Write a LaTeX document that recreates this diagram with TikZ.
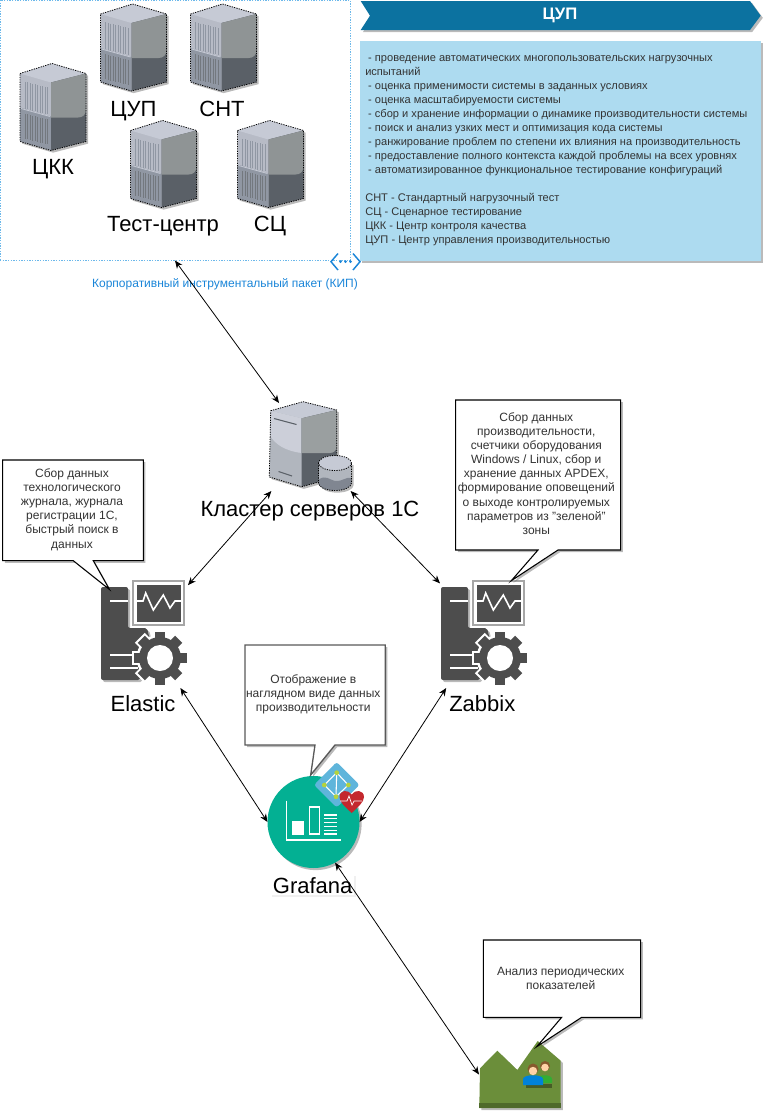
\documentclass[tikz,border=0pt]{standalone}
\usepackage{fontspec}
\setmainfont{Liberation Sans}
\usetikzlibrary{arrows.meta, shadows}
\definecolor{kipcol}{HTML}{6CB8EA}
\definecolor{kiptext}{HTML}{1A85D8}
\definecolor{headcol}{HTML}{0C72A0}
\definecolor{panelcol}{HTML}{ADDBF0}
\definecolor{notetext}{HTML}{333333}
\definecolor{darkcol}{HTML}{4D4D4D}
\definecolor{grafcol}{HTML}{03B093}
\definecolor{diamcol}{HTML}{5FB5DB}
\definecolor{limecol}{HTML}{B5D33D}
\definecolor{heartcol}{HTML}{C4282E}
\definecolor{landcol}{HTML}{6B8E3A}
\definecolor{landdark}{HTML}{4F6A2A}
\definecolor{topface}{HTML}{C6CAD5}
\definecolor{leftface}{HTML}{B7BBC6}
\definecolor{leftlow}{HTML}{9097A3}
\definecolor{rightup}{HTML}{8F9495}
\definecolor{rightlow}{HTML}{5A6067}
\tikzset{
  softshadow/.style={drop shadow={shadow xshift=1.6pt, shadow yshift=-1.6pt, fill=black!60, opacity=.45}},
  iconbox/.style={inner sep=0pt, outer sep=0pt},
  biglabel/.style={inner sep=0pt, anchor=base, font=\fontsize{16.5}{18}\selectfont},
  notetxt/.style={inner sep=0pt, align=center, text=notetext, font=\fontsize{9}{10.6}\selectfont},
  notebox/.style={draw=black, fill=white, line width=.8pt, line join=miter, softshadow},
  link/.style={<->, line width=.6pt},
  dotline/.style={draw=black, dash pattern=on .9pt off .9pt, line width=.6pt}
}
\newcommand{\towerserver}[3]{%
\begin{scope}[shift={(#2,#3)}]
  \node[iconbox, minimum width=49.5pt, minimum height=65.25pt] (#1) at (33,43.5) {};
  \fill[softshadow, leftface] (0,10) -- (32,0) -- (66,10) -- (66,78) -- (31,87) -- (0,78) -- cycle;
  \fill[leftlow] (0,44) -- (31,53) -- (31,87) -- (0,78) -- cycle;
  \fill[topface] (0,10) -- (32,0) -- (66,10) -- (31,19) -- cycle;
  \fill[rightlow] (31,19) -- (66,10) -- (66,78) -- (31,87) -- cycle;
  \fill[rightup] (31,19) -- (66,10) -- (66,46) .. controls (66,51) and (63,54) .. (58,54) -- (31,54) -- cycle;
  \foreach \sx in {5,7.5,...,27.5} {
    \draw[leftlow, line width=.5pt] ({\sx},{\sx*.25+17}) -- ({\sx},{\sx*.25+44});
    \draw[rightlow!85, line width=.5pt] ({\sx},{\sx*.25+49}) -- ({\sx},{\sx*.25+74});
  }
  \draw[topface, line width=.6pt] (1,45) -- (30,53);
  \draw[dotline] (0,10) -- (32,0) -- (66,10) -- (66,78) -- (31,87) -- (0,78) -- cycle;
\end{scope}}
\newcommand{\monserver}[3]{%
\begin{scope}[shift={(#2,#3)}]
  \node[iconbox, minimum width=66pt, minimum height=81pt] (#1) at (44,54) {};
  \fill[darkcol, softshadow, rounded corners=1.5pt] (1,7) -- (28,7) -- (28,48) -- (47,48) -- (50,60) -- (40,100) -- (1,100) -- cycle;
  \draw[white, line width=2pt] (10,21) -- (28,21);
  \draw[white, line width=1.5pt] (10,75) -- (38,75);
  \draw[white, line width=1.5pt] (10,88) -- (38,88);
  \draw[fill=white, draw=black!35, line width=1.5pt] (33,1) rectangle (84,45);
  \fill[darkcol] (37,5) rectangle (81,42);
  \draw[white, line width=1.2pt] (37,21) -- (43,21) -- (45.7,13) -- (53.3,30) -- (63.3,15) -- (70,28) -- (75,21) -- (81,21);
  \fill[white] (60,78) circle (23.5);
  \foreach \a in {0,45,...,315}
    \fill[white, rotate around={\a:(60,78)}] (53,49.5) rectangle (67,60);
  \foreach \a in {0,45,...,315}
    \fill[darkcol, rotate around={\a:(60,78)}] (55,51.5) rectangle (65,60);
  \fill[darkcol] (60,78) circle (21);
  \fill[white] (60,78) circle (13);
\end{scope}}
\begin{document}
\begin{tikzpicture}[x=.75pt, y=-.75pt, >={Stealth[length=6pt, width=5pt]}]
\useasboundingbox (0,0) rectangle (768,1115);
\node[draw=kipcol, dash pattern=on 1pt off 1pt, line width=.75pt, inner sep=0pt, minimum width=262.5pt, minimum height=195pt] (kip) at (175,130) {};
\towerserver{ckksrv}{20}{63.5}
\towerserver{cupsrv}{100.5}{4}
\towerserver{sntsrv}{190.5}{4}
\towerserver{testsrv}{130.5}{120.5}
\towerserver{scsrv}{237.5}{120.5}
\node[biglabel] (ckklabel) at (53,174) {ЦКК};
\node[biglabel] (cuplabel) at (133.5,116.7) {ЦУП};
\node[biglabel] (sntlabel) at (222,116.7) {СНТ};
\node[biglabel] (testlabel) at (163,231.7) {Тест-центр};
\node[biglabel] (sclabel) at (270,231.7) {СЦ};
\node[inner sep=0pt, text=kiptext, font=\fontsize{9}{10.6}\selectfont] (kiplabel) at (225,284) {Корпоративный инструментальный пакет (КИП)};
\fill[headcol, softshadow] (360.7,1) -- (750,1) -- (760.7,15.7) -- (750,30) -- (360.7,30) -- (370,15.7) -- cycle;
\node[inner sep=0pt, text=white, font=\fontsize{12.5}{14}\selectfont\bfseries] (headlabel) at (560,15.7) {ЦУП};
\node[fill=panelcol, softshadow, inner sep=0pt, minimum width=300.5pt, minimum height=165pt] (panel) at (560.3,150.7) {};
\node[notetxt, align=left, anchor=west, font=\fontsize{8.3}{10.5}\selectfont] (paneltext) at (365,150.5) {\hspace*{2.2pt}- проведение автоматических многопользовательских нагрузочных\\
испытаний\\
\hspace*{2.2pt}- оценка применимости системы в заданных условиях\\
\hspace*{2.2pt}- оценка масштабируемости системы\\
\hspace*{2.2pt}- сбор и хранение информации о динамике производительности системы\\
\hspace*{2.2pt}- поиск и анализ узких мест и оптимизация кода системы\\
\hspace*{2.2pt}- ранжирование проблем по степени их влияния на производительность\\
\hspace*{2.2pt}- предоставление полного контекста каждой проблемы на всех уровнях\\
\hspace*{2.2pt}- автоматизированное функциональное тестирование конфигураций\\
\mbox{}\\
СНТ - Стандартный нагрузочный тест\\
СЦ - Сценарное тестирование\\
ЦКК - Центр контроля качества\\
ЦУП - Центр управления производительностью};
\draw[kiptext, line width=1.1pt] (338,253.5) -- (331,261.7) -- (338,270);
\draw[kiptext, line width=1.1pt] (353,253.5) -- (360,261.7) -- (353,270);
\foreach \dx in {340.5,345.5,350.5}
  \fill[kiptext] (\dx,261.7) circle (1.5);
\node[iconbox, minimum width=61.5pt, minimum height=66pt] (cluster) at (311,447) {};
\begin{scope}
  \fill[softshadow, leftlow!70!white] (270.7,410.7) -- (303,401.7) -- (336.7,410) -- (336.7,477) -- (301.7,486.7) -- (269.3,477) -- cycle;
  \fill[topface] (270.7,410.7) -- (303,401.7) -- (336.7,410) -- (301.7,418.3) -- cycle;
  \fill[topface!90!white] (270.7,410.7) -- (301.7,418.3) -- (301.7,453) .. controls (285,451) and (275,444) .. (270.3,436) -- cycle;
  \fill[rightlow] (301.7,418.3) -- (336.7,410) -- (336.7,477) -- (301.7,486.7) -- cycle;
  \fill[rightup!90!white] (301.7,418.3) -- (336.7,410) -- (336.7,446) .. controls (336.7,450) and (334,453) .. (330,453) -- (301.7,453) -- cycle;
  \draw[rightlow, line width=.8pt] (274,418.5) -- (296.5,424.5);
  \draw[rightlow, line width=.8pt] (278.5,471.5) -- (292,476);
  \draw[dotline] (270.7,410.7) -- (303,401.7) -- (336.7,410) -- (336.7,477) -- (301.7,486.7) -- (269.3,477) -- cycle;
  \fill[softshadow, leftlow!70!white] (318.5,463) -- (318.5,483) arc[start angle=180, end angle=0, x radius=16.5, y radius=7.5] -- (351.5,463) -- cycle;
  \fill[leftlow!70!rightlow] (318.5,480) .. controls (325,474) and (330,480) .. (335,481) .. controls (342,482) and (347,476) .. (351.5,478) -- (351.5,483) arc[start angle=0, end angle=180, x radius=16.5, y radius=7.5] -- cycle;
  \fill[topface] (335,463) ellipse (16.5 and 7.5);
  \draw[dotline] (318.5,463) -- (318.5,483) arc[start angle=180, end angle=0, x radius=16.5, y radius=7.5] -- (351.5,463);
  \draw[dotline] (335,463) ellipse (16.5 and 7.5);
\end{scope}
\node[biglabel] (clusterlabel) at (310,516) {Кластер серверов 1С};
\monserver{elastic}{100}{580}
\monserver{zabbix}{440}{580}
\node[biglabel] (elasticlabel) at (143,711.7) {Elastic};
\node[biglabel] (zabbixlabel) at (482.3,711.7) {Zabbix};
\draw[notebox] (2.7,460) -- (143.3,460) -- (143.3,560.7) -- (93.3,560.7) -- (109.5,589.5) -- (73.3,560.7) -- (2.7,560.7) -- cycle;
\node[notetxt] (elasticnote) at (72,509.5) {Сбор данных\\технологического\\журнала, журнала\\регистрации 1С,\\быстрый поиск в\\данных};
\draw[notebox] (455.7,400) -- (620.7,400) -- (620.7,550) -- (558,550) -- (511.3,580.7) -- (538,550) -- (455.7,550) -- cycle;
\node[notetxt] (zabbixnote) at (536.3,473.5) {Сбор данных\\производительности,\\счетчики оборудования\\Windows / Linux, сбор и\\хранение данных APDEX,\\формирование оповещений\\о выходе контролируемых\\параметров из "зеленой"\\зоны};
\node[iconbox, circle, fill=grafcol, softshadow, minimum size=69pt] (grafana) at (313.5,822) {};
\draw[white, line width=.8pt] (286.7,800.7) -- (286.7,840) -- (340.7,840);
\fill[white] (291.7,820.7) rectangle (304.3,834.7);
\draw[white, line width=1pt] (309.5,807) rectangle (319.7,834);
\foreach \ly in {815,818.8,822.6,826.4,830.2,834}
  \draw[white, line width=.8pt] (324.3,\ly) -- (337.3,\ly);
\draw[notebox, draw=black!65, line width=1pt] (245,645) -- (385.3,645) -- (385.3,745) -- (335,745) -- (310.7,775) -- (315,745) -- (245,745) -- cycle;
\node[notetxt] (grafananote) at (313.3,694) {Отображение в\\наглядном виде данных\\производительности};
\fill[diamcol, rounded corners=2pt] (336.7,762) -- (359.5,785) -- (336.7,807.5) -- (314,785) -- cycle;
\draw[white, line width=.8pt] (336.7,772.7) -- (324.3,785) -- (336,796.7) -- (348.3,785) -- cycle;
\draw[white, line width=.8pt] (336.7,772.7) -- (336,796.7);
\foreach \nx/\ny in {336.7/772.7, 324.3/785, 348.3/785, 336/796.7}
  \fill[limecol] (\nx,\ny) circle (2.4);
\fill[heartcol] (351.7,813) .. controls (345,807) and (339.5,802) .. (339.5,797) .. controls (339.5,790) and (348,789) .. (351.7,794.5) .. controls (355,789) and (364,790) .. (364,797) .. controls (364,802) and (358,807) .. (351.7,813) -- cycle;
\draw[white, line width=.5pt] (340,801) -- (347,801) -- (349,796) -- (352,805) -- (354,801) -- (362,801);
\node[biglabel, fill=white, inner sep=1.5pt, drop shadow={shadow xshift=1pt, shadow yshift=-1pt, fill=black!30, opacity=.2}] (grafanalabel) at (312.7,893) {Grafana};
\node[iconbox, minimum width=61.5pt, minimum height=50.25pt] (analytics) at (520,1074.5) {};
\fill[landcol, softshadow] (480,1068.3) -- (497.3,1050.7) -- (517.3,1070) -- (537.7,1041) -- (560.7,1060.7) -- (560.7,1108) -- (479.3,1108) -- cycle;
\fill[landdark] (479.3,1103) rectangle (560.7,1108);
\fill[black!35!landcol] (526,1084) rectangle (552,1088);
\fill[green!60!black!80] (537,1079) .. controls (537,1074) and (552,1074) .. (552,1079) -- (552,1083) -- (537,1083) -- cycle;
\fill[brown!70!black] (545,1066) circle (5);
\fill[orange!35!white] (545,1067.5) circle (3.8);
\fill[blue!40!cyan!85!black] (523,1085) -- (523,1079) .. controls (523,1074) and (543,1074) .. (543,1079) -- (543,1085) -- cycle;
\fill[brown!70!black] (533,1069) circle (5.5);
\fill[orange!35!white] (533,1071) circle (4.2);
\draw[notebox] (483.3,940) -- (640.7,940) -- (640.7,1017.3) -- (581.7,1017.3) -- (536.7,1046.7) -- (561.7,1017.3) -- (483.3,1017.3) -- cycle;
\node[notetxt] (analyticsnote) at (560.7,978) {Анализ периодических\\показателей};
\draw[link] (kip.south) -- (cluster.126);
\draw[link] (cluster.228) -- (elastic.48);
\draw[link] (cluster.-48) -- (zabbix.131);
\draw[link] (elastic.-56) -- (grafana.west);
\draw[link] (zabbix.-125) -- (grafana.east);
\draw[link] (grafana.-62) -- (analytics.west);
\end{tikzpicture}
\end{document}
